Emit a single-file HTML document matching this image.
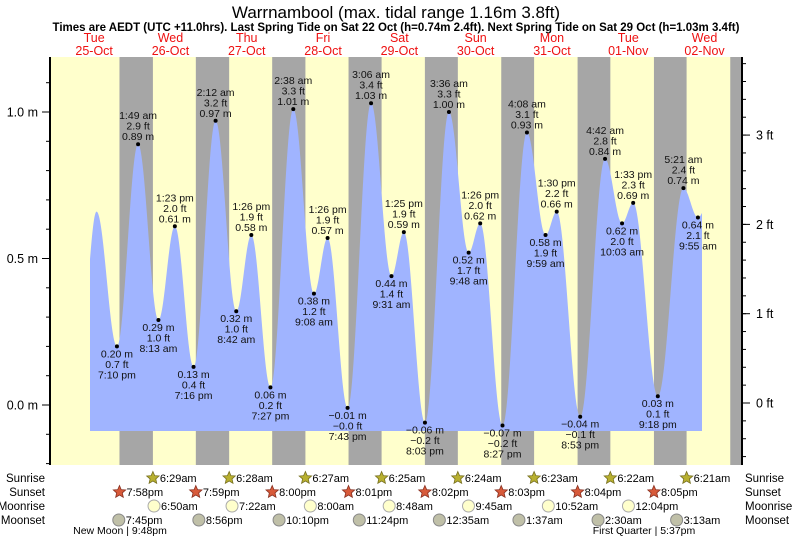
<!DOCTYPE html>
<html><head><meta charset="utf-8"><style>
body{margin:0;background:#fff;}
svg{display:block;font-family:"Liberation Sans",sans-serif;}
</style></head><body>
<svg id="chart" width="793" height="539" xmlns="http://www.w3.org/2000/svg">
<text x="396" y="18" font-size="17" text-anchor="middle">Warrnambool (max. tidal range 1.16m 3.8ft)</text>
<text x="396" y="31" font-size="11.5" font-weight="bold" text-anchor="middle">Times are AEDT (UTC +11.0hrs). Last Spring Tide on Sat 22 Oct (h=0.74m 2.4ft). Next Spring Tide on Sat 29 Oct (h=1.03m 3.4ft)</text>
<g id="bg"></g><g id="fill"></g><g id="axes"></g><g id="labels"></g><g id="astro"></g>
</svg>
<script>
// Data arrays
const dayNames=["Tue","Wed","Thu","Fri","Sat","Sun","Mon","Tue","Wed"];
const dayDates=["25-Oct","26-Oct","27-Oct","28-Oct","29-Oct","30-Oct","31-Oct","01-Nov","02-Nov"];
// tide extremes: day offset (0 = 25-Oct), time label, height m
const tideDay=[0,0,0,1,1,1,1,2,2,2,2,3,3,3,3,4,4,4,4,5,5,5,5,6,6,6,6,7,7,7,7,8];
const tideTime=["8:00 am","12:45 pm","7:10 pm","1:49 am","8:13 am","1:23 pm","7:16 pm","2:12 am","8:42 am","1:26 pm","7:27 pm","2:38 am","9:08 am","1:26 pm","7:43 pm","3:06 am","9:31 am","1:25 pm","8:03 pm","3:36 am","9:48 am","1:26 pm","8:27 pm","4:08 am","9:59 am","1:30 pm","8:53 pm","4:42 am","10:03 am","1:33 pm","9:18 pm","5:21 am"];
const tideHeight=[0.25,0.66,0.20,0.89,0.29,0.61,0.13,0.97,0.32,0.58,0.06,1.01,0.38,0.57,-0.01,1.03,0.44,0.59,-0.06,1.00,0.52,0.62,-0.07,0.93,0.58,0.66,-0.04,0.84,0.62,0.69,0.03,0.74];
const tideShown=[0,0,1,1,1,1,1,1,1,1,1,1,1,1,1,1,1,1,1,1,1,1,1,1,1,1,1,1,1,1,1,1];
const tailDay=[8,8];const tailTime=["9:55 am","2:20 pm"];const tailHeight=[0.64,0.72];const tailShown=[1,0];
const sunriseTimes=["6:29am","6:28am","6:27am","6:25am","6:24am","6:23am","6:22am","6:21am"]; // days 1..8
const sunsetTimes=["7:58pm","7:59pm","8:00pm","8:01pm","8:02pm","8:03pm","8:04pm","8:05pm","8:05pm"]; // days 0..8
const moonriseTimes=["6:50am","7:22am","8:00am","8:48am","9:45am","10:52am","12:04pm"]; // days 1..7
const moonsetDay=[0,1,2,3,5,6,7,8];
const moonsetTimes=["7:45pm","8:56pm","10:10pm","11:24pm","12:35am","1:37am","2:30am","3:13am"];
const mTicks=[0.0,0.5,1.0];const ftTicks=[0,1,2,3];

const NS="http://www.w3.org/2000/svg";
const X0=56,PXD=76.3,Y0=405,PXM=293,TOP=57,BOT=465,LEFT=50,RIGHT=742,FILLBOT=431;
const xs=d=>X0+d*PXD, ys=m=>Y0-m*PXM;
function parseT(s){const m=s.match(/(\d+):(\d+)\s*(am|pm)/);let h=+m[1]%12;if(m[3]=="pm")h+=12;return (h+ +m[2]/60)/24;}
function el(tag,attrs,parent,txt){const e=document.createElementNS(NS,tag);for(const k in attrs)e.setAttribute(k,attrs[k]);if(txt!=null)e.textContent=txt;parent.appendChild(e);return e;}
const bg=document.getElementById('bg'),fillG=document.getElementById('fill'),ax=document.getElementById('axes'),lab=document.getElementById('labels'),astro=document.getElementById('astro');

let r=el('rect',{x:LEFT,y:TOP,width:RIGHT-LEFT,height:BOT-TOP,fill:'#ffffcc'},bg);

for(let d=0;d<sunsetTimes.length;d++){
  const s=d+parseT(sunsetTimes[d]);
  const e=d<sunriseTimes.length? d+1+parseT(sunriseTimes[d]) : 99;
  const x1=xs(s),x2=Math.min(xs(e),RIGHT);
  const n=el('rect',{x:x1,y:TOP,width:x2-x1,height:BOT-TOP,fill:'#a6a6a6'},bg);
  
}
for(let i=0;i<dayNames.length;i++){
  const x=xs(i+0.5);
  const t1=el('text',{x:x,y:42,'font-size':12.5,fill:'#ee1111','text-anchor':'middle'},lab,dayNames[i]);
  
  const t2=el('text',{x:x,y:55,'font-size':12.5,fill:'#ee1111','text-anchor':'middle'},lab,dayDates[i]);
  
}
const T=[],H=[],S=[],TL=[];
tideDay.forEach((d,i)=>{T.push(d+parseT(tideTime[i]));H.push(tideHeight[i]);S.push(tideShown[i]);TL.push(tideTime[i]);});
tailDay.forEach((d,i)=>{T.push(d+parseT(tailTime[i]));H.push(tailHeight[i]);S.push(tailShown[i]);TL.push(tailTime[i]);});
function h(t){for(let i=0;i<T.length-1;i++){if(t>=T[i]&&t<=T[i+1]){const f=(t-T[i])/(T[i+1]-T[i]);return H[i]+(H[i+1]-H[i])*(1-Math.cos(Math.PI*f))/2;}}return H[H.length-1];}
const tStart=(90-X0)/PXD,tEnd=(702-X0)/PXD;
let p=`M${xs(tStart)},${FILLBOT}`;
for(let x=xs(tStart);x<=xs(tEnd);x+=0.5){p+=` L${x.toFixed(1)},${ys(h((x-X0)/PXD)).toFixed(1)}`;}
p+=` L${xs(tEnd)},${ys(h(tEnd)).toFixed(1)} L${xs(tEnd)},${FILLBOT} Z`;
const area=el('path',{d:p,fill:'#a0b4ff'},fillG);

for(let i=0;i<T.length;i++){
  if(!S[i])continue;
  const x=xs(T[i]),y=ys(H[i]);
  const high=(i>0&&H[i]>H[i-1])||(i==0);
  const dot=el('circle',{cx:x,cy:y,r:2,fill:'#000'},lab);
  
  const m=(H[i]<0?'\u2212'+Math.abs(H[i]).toFixed(2):H[i].toFixed(2))+' m';
  const fv=H[i]/0.3048;const f=(fv<-0.05?'\u2212'+Math.abs(fv).toFixed(1):(fv<0?'\u22120.0':fv.toFixed(1)))+' ft';
  const lines=high?[TL[i],f,m]:[m,f,TL[i]];
  const base=high?y-25:y+11;
  lines.forEach((s,k)=>{const t=el('text',{x:x,y:base+k*10.5,'font-size':10.5,'text-anchor':'middle',fill:'#111'},lab,s);
    });
}
let a=el('line',{x1:LEFT,y1:TOP,x2:LEFT,y2:BOT,stroke:'#000','stroke-width':2},ax);

a=el('line',{x1:RIGHT,y1:TOP,x2:RIGHT,y2:BOT,stroke:'#000','stroke-width':2},ax);

for(let v=-0.2;v<=1.2;v+=0.1){const y=ys(v);if(y<TOP||y>BOT)continue;el('line',{x1:LEFT-4,y1:y,x2:LEFT,y2:y,stroke:'#000'},ax);}
mTicks.forEach(v=>{const y=ys(v);el('line',{x1:LEFT-8,y1:y,x2:LEFT,y2:y,stroke:'#000'},ax);
  const t=el('text',{x:LEFT-12,y:y+4.5,'font-size':12.5,'text-anchor':'end'},ax,v.toFixed(1)+' m');
  });
for(let v=-0.6;v<=3.9;v+=0.2){const y=ys(v*0.3048)-2;if(y<TOP||y>BOT)continue;el('line',{x1:RIGHT,y1:y,x2:RIGHT+4,y2:y,stroke:'#000'},ax);}
ftTicks.forEach(v=>{const y=ys(v*0.3048)-2;el('line',{x1:RIGHT,y1:y,x2:RIGHT+8,y2:y,stroke:'#000'},ax);
  const t=el('text',{x:RIGHT+14,y:y+4.5,'font-size':12.5},ax,v+' ft');
  });
const rows=[["Sunrise",478],["Sunset",492],["Moonrise",506],["Moonset",520]];
rows.forEach(([n,y])=>{
  let t=el('text',{x:45,y:y+4,'font-size':11.5,'text-anchor':'end'},astro,n);
  
  t=el('text',{x:745,y:y+4,'font-size':11.5},astro,n);
  
});
function star(x,y,fill,stroke){let pts=[];for(let k=0;k<10;k++){const rr=k%2?3:6.5;const an=-Math.PI/2+k*Math.PI/5;pts.push((x+rr*Math.cos(an)).toFixed(1)+','+(y+rr*Math.sin(an)).toFixed(1));}
  return el('polygon',{points:pts.join(' '),fill:fill,stroke:stroke,'stroke-width':0.8},astro);}
function evt(x,y,label,kind){
  let ic;
  if(kind=='sr')ic=star(x,y,'#b8b030','#777020');
  else if(kind=='ss')ic=star(x,y,'#d85a3a','#883020');
  else if(kind=='mr')ic=el('circle',{cx:x,cy:y,r:6,fill:'#ffffcc',stroke:'#aaa'},astro);
  else ic=el('circle',{cx:x,cy:y,r:6,fill:'#c0c0a8',stroke:'#888'},astro);
  
  const t=el('text',{x:x+7,y:y+4,'font-size':11},astro,label);
  
}
sunriseTimes.forEach((s,i)=>evt(xs(i+1+parseT(s)),478,s,'sr'));
sunsetTimes.slice(0,8).forEach((s,i)=>evt(xs(i+parseT(s)),492,s,'ss'));
moonriseTimes.forEach((s,i)=>evt(xs(i+1+parseT(s)),506,s,'mr'));
moonsetTimes.forEach((s,i)=>evt(xs(moonsetDay[i]+parseT(s)),520,s,'ms'));
let t=el('text',{x:120,y:534,'font-size':10.5,'text-anchor':'middle'},astro,"New Moon | 9:48pm");

t=el('text',{x:644,y:534,'font-size':10.5,'text-anchor':'middle'},astro,"First Quarter | 5:37pm");

</script>
</body></html>
